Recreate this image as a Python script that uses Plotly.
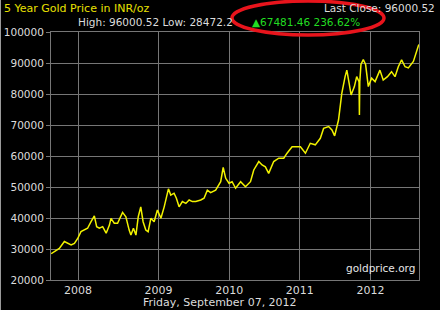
import plotly.graph_objects as go

# ---- data ----
dates = [
    "2007-06-26", "2007-07-21", "2007-08-07", "2007-09-02", "2007-09-19", "2007-10-07",
    "2007-10-24", "2007-11-10", "2007-11-27", "2007-12-14", "2007-12-31", "2008-01-18",
    "2008-02-04", "2008-02-16", "2008-03-01", "2008-03-18", "2008-04-05", "2008-04-22",
    "2008-04-30", "2008-05-17", "2008-06-03", "2008-06-29", "2008-07-16", "2008-08-02",
    "2008-08-11", "2008-08-24", "2008-09-06", "2008-09-18", "2008-10-01", "2008-10-13",
    "2008-10-27", "2008-11-08", "2008-11-22", "2008-12-09", "2008-12-26", "2009-01-13",
    "2009-01-30", "2009-02-21", "2009-03-05", "2009-03-22", "2009-04-03", "2009-04-17",
    "2009-05-04", "2009-05-22", "2009-06-08", "2009-06-25", "2009-07-12", "2009-08-07",
    "2009-08-24", "2009-09-10", "2009-09-27", "2009-10-23", "2009-11-04", "2009-11-18",
    "2009-12-01", "2009-12-14", "2009-12-31", "2010-01-16", "2010-02-03", "2010-03-01",
    "2010-03-26", "2010-04-21", "2010-05-08", "2010-06-03", "2010-06-20", "2010-07-07",
    "2010-07-24", "2010-08-19", "2010-09-14", "2010-10-10", "2010-10-27", "2010-11-22",
    "2010-12-17", "2011-01-04", "2011-01-30", "2011-02-24", "2011-03-22", "2011-04-17",
    "2011-05-04", "2011-05-30", "2011-06-16", "2011-06-30", "2011-07-20", "2011-08-06",
    "2011-08-23", "2011-09-01", "2011-09-13", "2011-09-23", "2011-10-10", "2011-10-22",
    "2011-11-03", "2011-11-05", "2011-11-07", "2011-11-13", "2011-11-25", "2011-12-07",
    "2011-12-21", "2012-01-07", "2012-01-25", "2012-02-19", "2012-03-07", "2012-03-29",
    "2012-04-19", "2012-05-07", "2012-05-24", "2012-06-10", "2012-06-28", "2012-07-15",
    "2012-08-10", "2012-08-22", "2012-09-07",
]
prices = [
    28472, 29400, 30200, 32400, 31800, 31300,
    31800, 33400, 35600, 36100, 36700, 38800,
    40700, 37200, 36700, 37200, 35100, 37700,
    39900, 38300, 38300, 41800, 40400, 36100,
    34500, 36700, 34500, 40400, 43600, 38800,
    36100, 35600, 39900, 38800, 42600, 39900,
    43600, 49400, 47400, 48000, 46400, 43600,
    45300, 44700, 45800, 45300, 45300, 45800,
    46400, 49000, 48200, 49000, 50100, 51700,
    56300, 52800, 51200, 51700, 49600, 51700,
    50100, 51700, 55500, 58200, 57100, 56500,
    54400, 58200, 59300, 59300, 60900, 63000,
    63000, 63000, 60900, 64100, 63600, 65700,
    68900, 69500, 68400, 66500, 71600, 80200,
    85600, 87700, 83400, 79700, 82400, 85600,
    84000, 73200, 84000, 89500, 91100, 89500,
    82400, 85100, 84000, 87700, 84500, 85600,
    87200, 85600, 88800, 91000, 88800, 88400,
    90500, 93100, 96000,
]
year_ticks = ["2007-11-12", "2009-01-01", "2010-01-01", "2011-01-01", "2012-01-01"]
year_labels = ["2008", "2009", "2010", "2011", "2012"]
y_ticks = [20000, 30000, 40000, 50000, 60000, 70000, 80000, 90000, 100000]

W, H = 440, 310
L, R, T, B = 51, 21, 32, 30
PW, PH = W - L - R, H - T - B


def px(x):
    return (x - L) / PW


def py(y):
    return (H - B - y) / PH


fig = go.Figure()
fig.add_trace(go.Scatter(
    x=dates, y=prices, mode="lines",
    line=dict(color="#f2f200", width=1.5),
    hoverinfo="skip", showlegend=False,
))

font = "DejaVu Sans, Verdana, sans-serif"
grid = "#767676"

fig.update_layout(
    template="none",
    width=W, height=H,
    margin=dict(l=L, r=R, t=T, b=B, autoexpand=False),
    paper_bgcolor="black", plot_bgcolor="black",
    font=dict(family=font, size=10, color="#dcdcdc"),
    xaxis=dict(
        type="date", range=["2007-06-25", "2012-09-08"],
        tickvals=year_ticks, ticktext=year_labels,
        showgrid=True, gridcolor=grid, gridwidth=1,
        showline=True, linecolor=grid, mirror=True,
        ticks="", zeroline=False, automargin=False,
        tickfont=dict(size=11, color="#dcdcdc"),
    ),
    yaxis=dict(
        range=[20000, 100000], tickvals=y_ticks,
        showgrid=True, gridcolor=grid, gridwidth=1,
        showline=True, linecolor=grid, mirror=True,
        ticks="outside", ticklen=4, tickcolor=grid,
        zeroline=False, tickformat="d", automargin=False,
        tickfont=dict(size=10.5, color="#dcdcdc"),
    ),
)

ann = [
    dict(text="5 Year Gold Price in INR/oz", x=px(2), y=py(9), xanchor="left",
         font=dict(size=11, color="#e8e000")),
    dict(text="Last Close: 96000.52", x=px(437), y=py(8), xanchor="right",
         font=dict(size=10.5, color="#dcdcdc")),
    dict(text="High: 96000.52 Low: 28472.2", x=px(76), y=py(22), xanchor="left",
         font=dict(size=10.5, color="#dcdcdc")),
    dict(text="▲67481.46 236.62%", x=px(250), y=py(22), xanchor="left",
         font=dict(size=10.5, color="#22dd22")),
    dict(text="goldprice.org", x=px(417), y=py(268), xanchor="right",
         font=dict(size=10.5, color="#e6e6e6")),
    dict(text="Friday, September 07, 2012", x=px(220), y=py(302), xanchor="center",
         font=dict(size=11, color="#dcdcdc")),
]
for a in ann:
    a.update(xref="paper", yref="paper", yanchor="middle", showarrow=False)
fig.update_layout(annotations=ann)

fig.add_shape(type="circle", xref="paper", yref="paper",
              x0=px(232), x1=px(384), y0=py(35), y1=py(1),
              line=dict(color="#e8141c", width=3.5), layer="above")
fig.add_shape(type="line", xref="paper", yref="paper",
              x0=px(0.5), x1=px(0.5), y0=py(0), y1=py(310),
              line=dict(color="#9a9a9a", width=1))

fig.write_html("out.html")
